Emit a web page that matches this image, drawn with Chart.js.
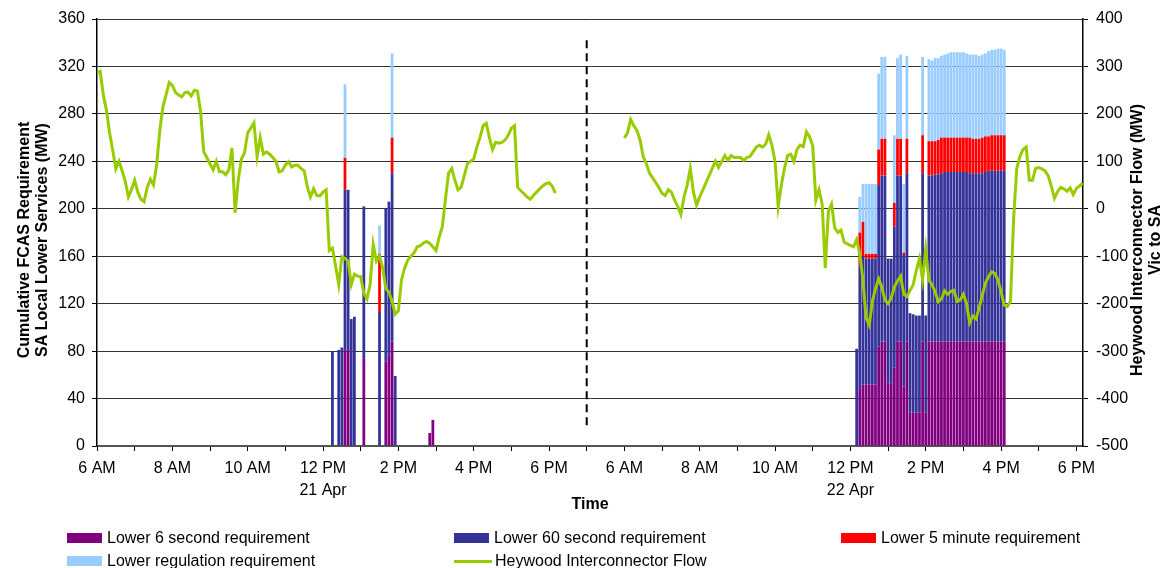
<!DOCTYPE html>
<html>
<head>
<meta charset="utf-8">
<script src="https://cdn.jsdelivr.net/npm/chart.js@4.4.0/dist/chart.umd.min.js"></script>
<style>
  body { margin: 0; background: #fff; font-family: "Liberation Sans", Arial, sans-serif; }
  #wrap { position: relative; width: 1170px; height: 568px; }
  #legend {
    position: absolute; left: 67px; top: 528px;
    display: grid; grid-template-columns: 387px 387px 320px; grid-auto-rows: 23px;
    font-size: 16px; color: #000;
  }
  #legend .item { display: flex; align-items: center; white-space: nowrap; height: 20px; }
  #legend .swatch { width: 35px; height: 10px; margin-right: 5px; }
  #legend .swatch.line { width: 38px; height: 3px; margin-right: 3px; }
</style>
</head>
<body>
<div id="wrap">
  <canvas id="chart" width="1170" height="568"></canvas>
  <div id="legend"></div>
</div>
<script>
// x axis: hours since 6 AM on 21 Apr, with the night of 21/22 Apr cut down to one hour
const tickHours = [0,1,2,3,4,5,6,7,8,9,10,11,12,13,14,15,16,17,18,19,20,21,22,23,24,25,26];
const tickLabels = ['6 AM','','8 AM','','10 AM','',['12 PM','21 Apr'],'','2 PM','','4 PM','','6 PM','',
                    '6 AM','','8 AM','','10 AM','',['12 PM','22 Apr'],'','2 PM','','4 PM','','6 PM'];
const dayOffset = { '21 Apr': -6, '22 Apr': 8 };

const seriesNames = ['Lower 6 second requirement', 'Lower 60 second requirement', 'Lower 5 minute requirement',
                     'Lower regulation requirement', 'Heywood Interconnector Flow'];
const seriesColors = ['#800080', '#333399', '#ff0000', '#99ccff', '#99cc00'];

// FCAS requirements (MW), 5 minute intervals
const day1BarStart = '12:15';
const day1Lower6   = [0,0,0,0,81,81,0,0,0,0,74,0,0,0,0,0,0,71,76,88,0,0,0,0,0,0,0,0,0,0,0,11,22];
const day1Lower60  = [80,0,81,83,135,135,107,109,0,0,128,0,0,0,0,113,0,129,130,142,59,0,0,0,0,0,0,0,0,0,0,0,0];
const day1Lower5   = [0,0,0,0,27,0,0,0,0,0,0,0,0,0,0,49,0,0,0,30,0,0,0,0,0,0,0,0,0,0,0,0,0];
const day1LowerReg = [0,0,0,0,62,0,0,0,0,0,0,0,0,0,0,24,0,0,0,71,0,0,0,0,0,0,0,0,0,0,0,0,0];

const day2BarStart = '12:10';
const day2Lower6   = [0,48,52,52,52,52,52,84,88,88,53,53,66,88,88,50,88,28,28,28,28,88,28,
                      88,88,88,88,88,88,88,88,88,88,88,88,88,88,88,88,88,88,88,88,88,88,88,88,88];
const day2Lower60  = [82,104,108,106,106,106,106,136,140,140,105,105,119,140,140,111,142,84,83,82,82,142,82,
                      140,140,141,141,142,143,143,143,143,143,143,143,143,142,142,142,142,142,143,144,144,144,144,144,144];
const day2Lower5   = [0,28,29,4,4,4,4,30,31,31,0,0,20,31,31,2,29,0,0,0,0,32,0,
                      29,29,28,29,30,29,29,29,29,29,29,29,29,30,29,29,29,30,30,29,30,30,30,30,30];
const day2LowerReg = [0,30,32,59,59,59,59,64,69,69,0,0,57,68,71,58,70,0,0,0,0,66,0,
                      69,68,70,69,69,70,71,72,72,72,72,72,71,70,71,71,70,70,70,72,72,72,73,73,72];

// Heywood flow (MW, Vic to SA), 5 minute intervals from 6:00
const flowStart = '06:00';
const flowDay1 = [
  287,290,240,208,160,124,84,100,80,58,25,40,60,35,20,15,45,62,50,92,
  165,215,240,266,260,245,240,236,245,246,238,250,248,205,120,108,95,82,100,78,
  78,72,82,128,-8,60,105,118,160,170,181,110,150,115,120,115,108,100,78,80,
  92,99,88,92,92,85,80,46,25,42,28,27,35,40,-88,-83,-120,-160,-101,-105,
  -110,-160,-138,-142,-143,-178,-190,-160,-75,-110,-100,-125,-168,-176,-195,-222,-215,-150,-125,-108,
  -100,-93,-80,-78,-72,-69,-73,-80,-88,-60,-38,20,75,85,60,40,45,70,95,100,
  105,130,150,175,180,150,125,140,138,140,145,155,170,175,45,38,32,25,20,28,
  35,42,48,53,55,48,33
];
const flowDay2 = [
  149,160,188,175,165,145,110,95,75,65,55,45,33,28,40,35,18,5,-12,25,
  50,85,35,8,25,40,55,70,85,100,87,100,112,102,112,108,108,108,102,108,
  110,120,130,134,130,136,156,134,100,5,50,85,112,115,100,125,134,131,162,152,
  133,18,40,10,-125,-5,10,-40,-50,-45,-70,-74,-77,-80,-65,-95,-150,-230,-245,-195,
  -168,-148,-165,-192,-200,-188,-165,-152,-142,-180,-185,-172,-160,-130,-105,-150,-85,-150,-160,-175,
  -196,-190,-173,-180,-174,-172,-195,-192,-180,-200,-240,-226,-232,-210,-182,-157,-143,-133,-136,-150,
  -175,-203,-206,-195,-20,85,110,125,130,60,60,85,87,84,80,70,48,22,36,45,
  42,37,44,30,43,48,54
];

const font = "'Liberation Sans', Arial, sans-serif";

const toX = (day, hhmm, stepMin = 0) => {
  const [h, m] = hhmm.split(':').map(Number);
  return h + m / 60 + stepMin / 60 + dayOffset[day];
};

const barPoints = (day, start, values) => values.map((v, i) => ({ x: toX(day, start, i * 5), y: v }));
const barSeries = (a, b) => barPoints('21 Apr', day1BarStart, a).concat(barPoints('22 Apr', day2BarStart, b));

const flowPoints = flowDay1.map((v, i) => ({ x: toX('21 Apr', flowStart, i * 5), y: v }))
  .concat([{ x: 13, y: null }])
  .concat(flowDay2.map((v, i) => ({ x: toX('22 Apr', flowStart, i * 5), y: v })));

const barDefaults = { type: 'bar', yAxisID: 'y', stack: 'fcas', order: 1,
                      barPercentage: 0.88, categoryPercentage: 1, borderWidth: 0 };

const datasets = [
  { ...barDefaults, label: seriesNames[0], data: barSeries(day1Lower6, day2Lower6), backgroundColor: seriesColors[0] },
  { ...barDefaults, label: seriesNames[1], data: barSeries(day1Lower60, day2Lower60), backgroundColor: seriesColors[1] },
  { ...barDefaults, label: seriesNames[2], data: barSeries(day1Lower5, day2Lower5), backgroundColor: seriesColors[2] },
  { ...barDefaults, label: seriesNames[3], data: barSeries(day1LowerReg, day2LowerReg), backgroundColor: seriesColors[3] },
  { type: 'line', label: seriesNames[4], data: flowPoints, yAxisID: 'y2', order: 0,
    borderColor: seriesColors[4], borderWidth: 3, pointRadius: 0, tension: 0, spanGaps: false }
];

// axis titles and the day divider
const extras = {
  id: 'extras',
  afterDraw(chart) {
    const { ctx, chartArea, scales } = chart;
    ctx.save();
    const xd = scales.x.getPixelForValue(13);
    ctx.strokeStyle = '#000';
    ctx.lineWidth = 2;
    ctx.setLineDash([8, 5]);
    ctx.beginPath();
    ctx.moveTo(xd, scales.y.getPixelForValue(342));
    ctx.lineTo(xd, scales.y.getPixelForValue(14));
    ctx.stroke();
    ctx.setLineDash([]);

    ctx.fillStyle = '#000';
    ctx.font = 'bold 16px ' + font;
    ctx.textAlign = 'center';
    ctx.textBaseline = 'middle';
    const midY = 240;
    const vText = (x, text) => {
      ctx.save();
      ctx.translate(x, midY);
      ctx.rotate(-Math.PI / 2);
      ctx.fillText(text, 0, 0);
      ctx.restore();
    };
    vText(25, 'Cumulative FCAS Requirement');
    vText(43, 'SA Local Lower Services (MW)');
    vText(1138, 'Heywood Interconnector Flow (MW)');
    vText(1156, 'Vic to SA');
    ctx.fillText('Time', (chartArea.left + chartArea.right) / 2, 505);
    ctx.restore();
  }
};

const tickFont = { family: font, size: 16, lineHeight: 1.375 };

new Chart(document.getElementById('chart'), {
  type: 'bar',
  data: { datasets },
  plugins: [extras],
  options: {
    responsive: false,
    animation: false,
    layout: { padding: { top: 19, bottom: 50, left: 0, right: 0 } },
    plugins: { legend: { display: false }, tooltip: { enabled: false } },
    scales: {
      x: {
        type: 'linear', min: 0, max: 26.175, stacked: true, offset: false,
        afterBuildTicks: a => { a.ticks = tickHours.map(v => ({ value: v })); },
        afterFit: a => { a.height = 72; a.paddingLeft = 0; a.paddingRight = 0; },
        grid: { drawOnChartArea: false, drawTicks: true, tickLength: 5, tickColor: '#000', offset: false },
        border: { color: '#555', width: 2 },
        ticks: { autoSkip: false, maxRotation: 0, padding: 7, color: '#000', font: tickFont,
                 callback: (v, i) => tickLabels[i] }
      },
      y: {
        position: 'left', min: 0, max: 360, stacked: true,
        afterFit: a => { a.width = 97; a.paddingTop = 0; a.paddingBottom = 0; },
        grid: { color: '#333', lineWidth: 1, tickLength: 5, tickColor: '#000' },
        border: { color: '#000', width: 1.5 },
        ticks: { stepSize: 40, padding: 7, color: '#000', font: tickFont }
      },
      y2: {
        position: 'right', min: -500, max: 400, stacked: false,
        afterFit: a => { a.width = 87; a.paddingTop = 0; a.paddingBottom = 0; },
        grid: { drawOnChartArea: false, tickLength: 5, tickColor: '#000' },
        border: { color: '#000', width: 1.5 },
        ticks: { stepSize: 100, padding: 8, color: '#000', font: tickFont }
      }
    }
  }
});

// legend in three columns, like the original
const legend = document.getElementById('legend');
seriesNames.forEach((name, i) => {
  const item = document.createElement('div');
  item.className = 'item';
  const sw = document.createElement('span');
  sw.className = i === 4 ? 'swatch line' : 'swatch';
  sw.style.background = seriesColors[i];
  item.appendChild(sw);
  item.appendChild(document.createTextNode(name));
  legend.appendChild(item);
});
</script>
</body>
</html>
